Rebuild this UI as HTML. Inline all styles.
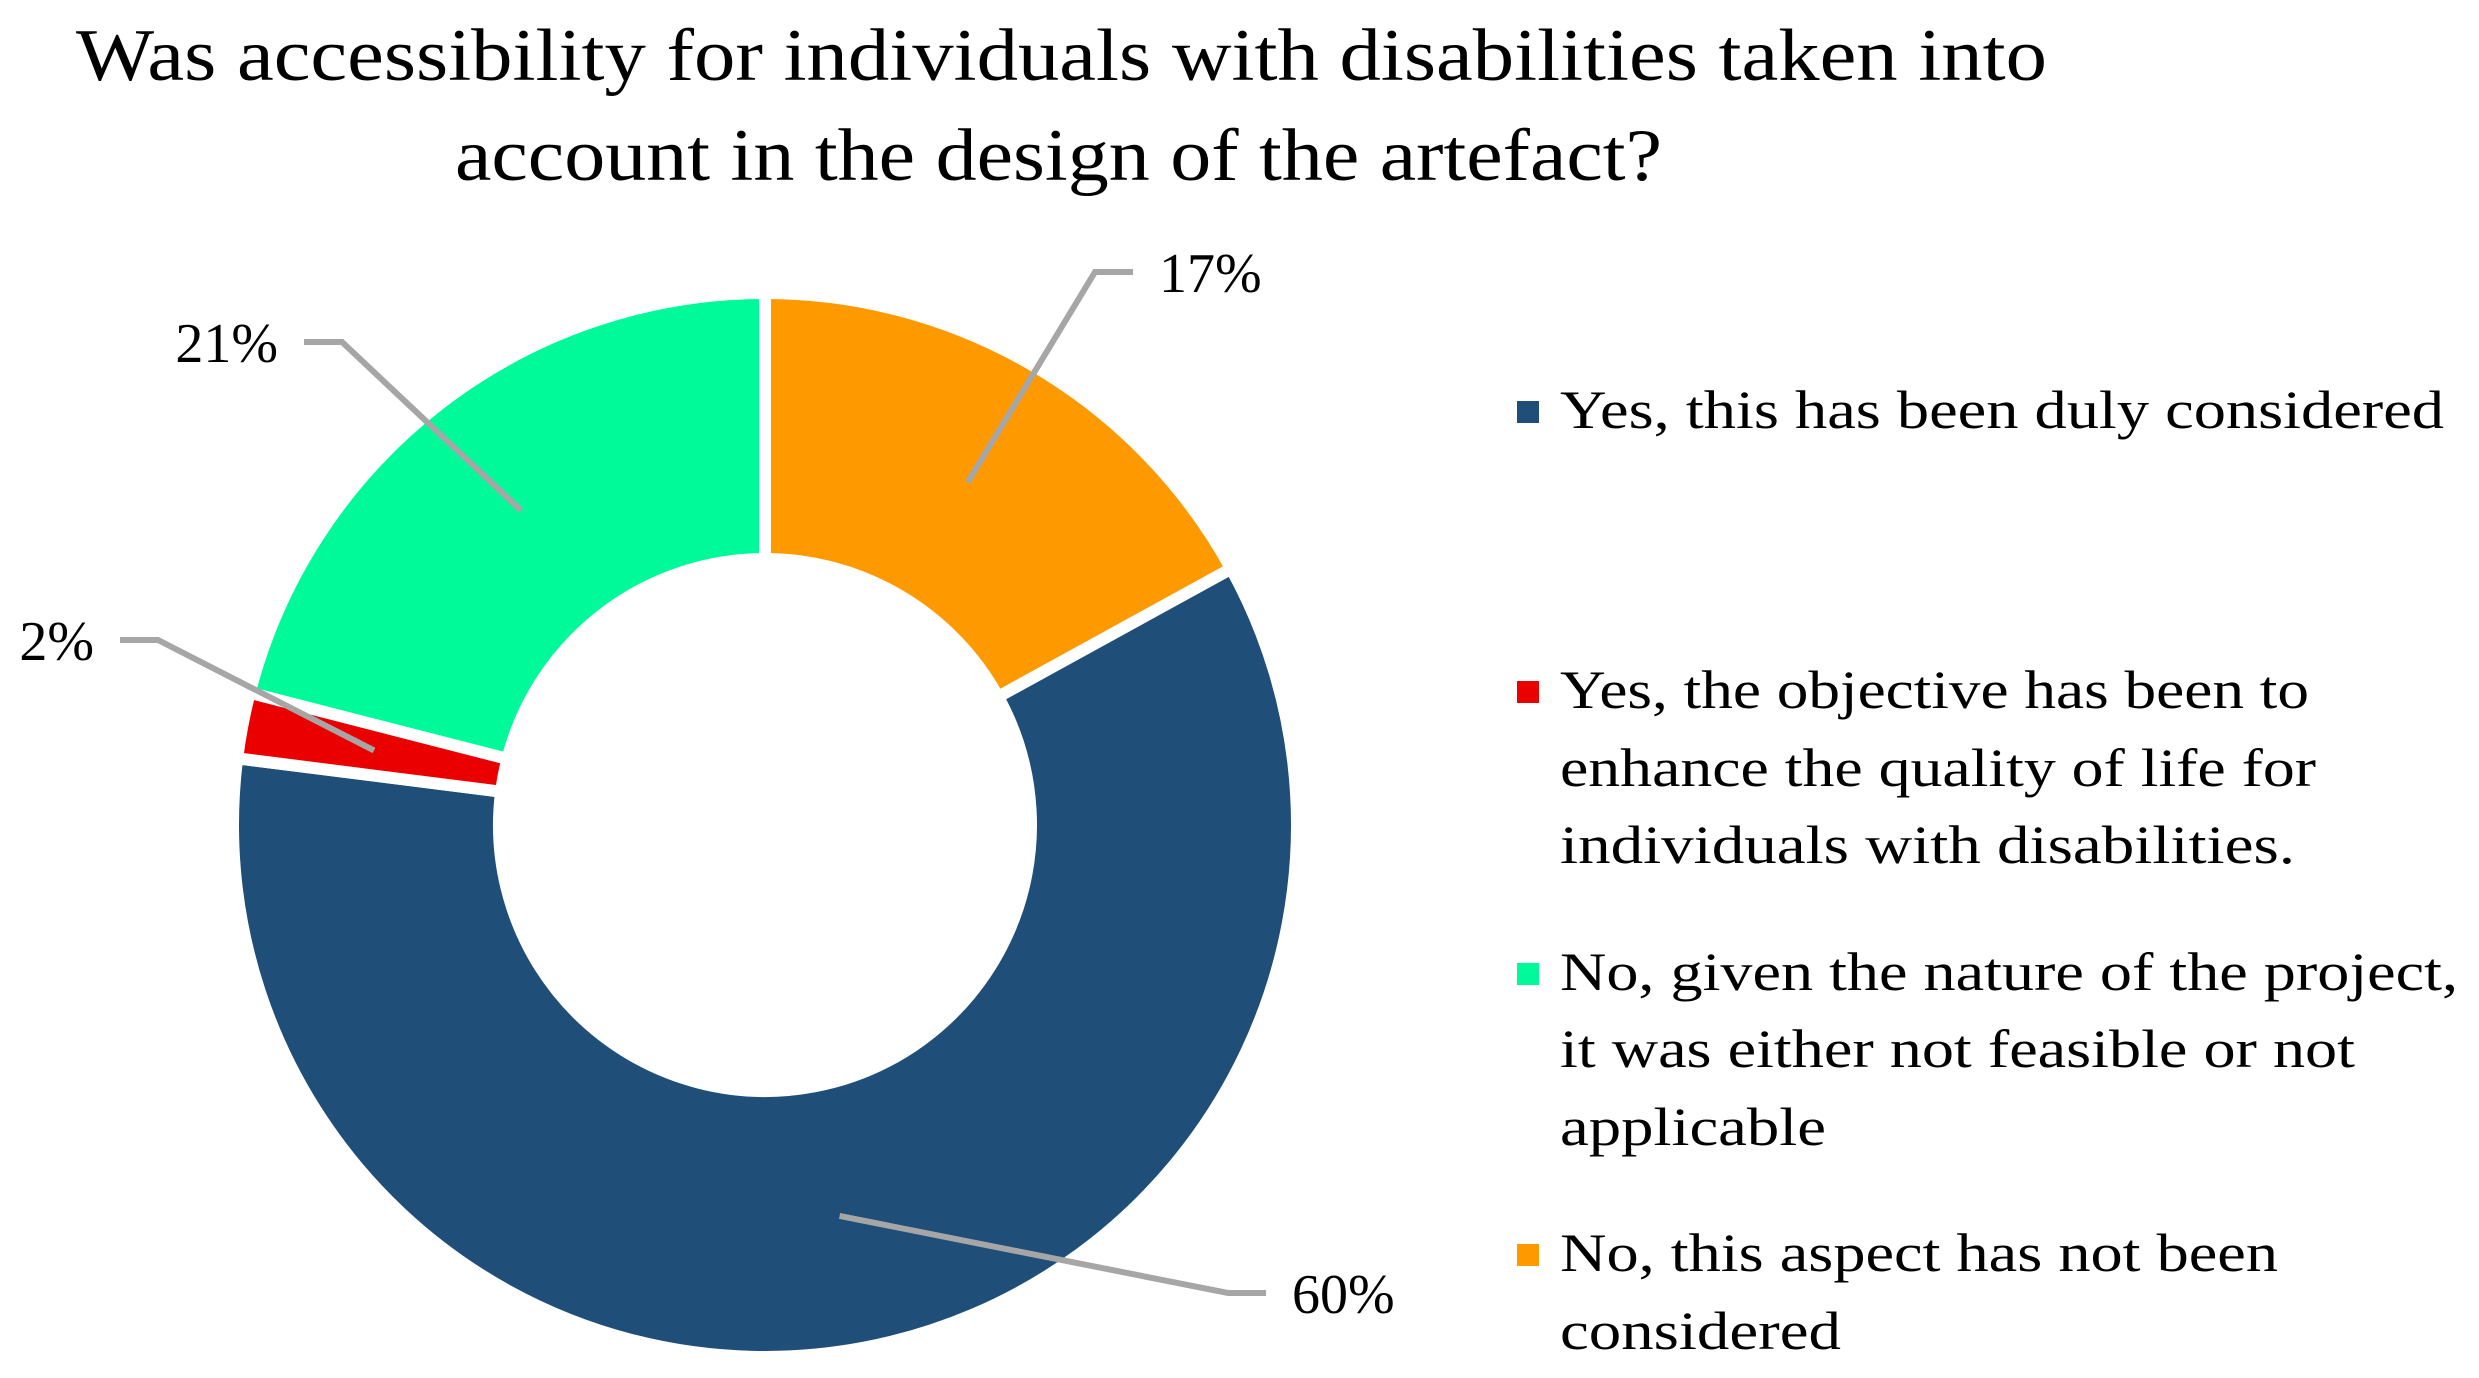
<!DOCTYPE html>
<html><head><meta charset="utf-8">
<style>
html,body{margin:0;padding:0;background:#fff;}
svg{display:block;font-family:"Liberation Serif",serif;}
</style></head>
<body>
<svg id="chart" width="2479" height="1378" viewBox="0 0 2479 1378">
  <g font-size="74" fill="#000">
    <text x="76" y="80" textLength="1971" lengthAdjust="spacingAndGlyphs">Was accessibility for individuals with disabilities taken into</text>
    <text x="455" y="180" textLength="1207" lengthAdjust="spacingAndGlyphs">account in the design of the artefact?</text>
  </g>
  <g id="slices"></g>
  <g id="leaders"></g>
  <g id="legend" font-size="54" fill="#000"></g>
</svg>
<script>
// data, in drawing order (clockwise from 12 o'clock)
const categories = ["No, this aspect has not been considered","Yes, this has been duly considered","Yes, the objective has been to enhance the quality of life for individuals with disabilities.","No, given the nature of the project, it was either not feasible or not applicable"];
const values = [17, 60, 2, 21];
const valueLabels = ["17%", "60%", "2%", "21%"];
const colors = ["#FF9900", "#1F4E79", "#EB0000", "#00FA9A"];

const NS = "http://www.w3.org/2000/svg";
const cx = 765, cy = 825, R = 532, r = 266;
const total = values.reduce((a, b) => a + b, 0);
function ang(v) { return v / total * 2 * Math.PI; }
function pt(a, rad) { return [cx + rad * Math.sin(a), cy - rad * Math.cos(a)]; }

// label elbow positions (layout, not data)
const elbows = [[1095, 272], [1228, 1293], [158, 640], [342, 342]];

const slicesG = document.getElementById('slices');
const leadersG = document.getElementById('leaders');
let acc = 0;
values.forEach((v, i) => {
  const a0 = ang(acc), a1 = ang(acc + v);
  acc += v;
  const large = (a1 - a0) > Math.PI ? 1 : 0;
  const p0 = pt(a0, R), p1 = pt(a1, R), q1 = pt(a1, r), q0 = pt(a0, r);
  const p = document.createElementNS(NS, 'path');
  p.setAttribute('d', `M${p0[0]},${p0[1]} A${R},${R} 0 ${large} 1 ${p1[0]},${p1[1]} L${q1[0]},${q1[1]} A${r},${r} 0 ${large} 0 ${q0[0]},${q0[1]} Z`);
  p.setAttribute('fill', colors[i]);
  p.setAttribute('stroke', '#fff');
  p.setAttribute('stroke-width', '12');
  p.setAttribute('stroke-linejoin', 'miter');
  
  
  slicesG.appendChild(p);

  const am = (a0 + a1) / 2;
  const s = pt(am, 398);
  const right = Math.sin(am) >= 0;
  const ex = elbows[i][0], ey = elbows[i][1];
  const hx = ex + (right ? 38 : -38);
  const line = document.createElementNS(NS, 'polyline');
  line.setAttribute('points', `${s[0]},${s[1]} ${ex},${ey} ${hx},${ey}`);
  line.setAttribute('fill', 'none');
  line.setAttribute('stroke', '#A6A6A6');
  line.setAttribute('stroke-width', '6');
  
  
  leadersG.appendChild(line);
  const t = document.createElementNS(NS, 'text');
  t.setAttribute('x', right ? hx + 26 : hx - 26);
  t.setAttribute('y', ey + 20);
  t.setAttribute('font-size', '56');
  t.setAttribute('text-anchor', right ? 'start' : 'end');
  t.textContent = valueLabels[i];
  
  
  leadersG.appendChild(t);
});

const legendOrder = [1, 2, 3, 0];
const legendLines = [
  ["Yes, this has been duly considered"],
  ["Yes, the objective has been to", "enhance the quality of life for", "individuals with disabilities."],
  ["No, given the nature of the project,", "it was either not feasible or not", "applicable"],
  ["No, this aspect has not been", "considered"]
];
const legendWidths = [884, 749, 756, 735, 898, 795, 266, 718, 281];
const legendBaselines = [428, 708, 786, 863, 990, 1067, 1145, 1271, 1349];
const legendG = document.getElementById('legend');
let li = 0;
legendOrder.forEach((ci, k) => {
  const g = document.createElementNS(NS, 'g');
  
  
  const y0 = legendBaselines[li];
  const sq = document.createElementNS(NS, 'rect');
  sq.setAttribute('x', 1517); sq.setAttribute('y', y0 - 27);
  sq.setAttribute('width', 22); sq.setAttribute('height', 22);
  sq.setAttribute('fill', colors[ci]);
  
  
  g.appendChild(sq);
  legendLines[k].forEach(line => {
    const t = document.createElementNS(NS, 'text');
    t.setAttribute('x', 1560);
    t.setAttribute('y', legendBaselines[li]);
    t.setAttribute('textLength', legendWidths[li]);
    t.setAttribute('lengthAdjust', 'spacingAndGlyphs');
    t.textContent = line;
    
    
    g.appendChild(t);
    li++;
  });
  legendG.appendChild(g);
});
</script>
</body></html>
